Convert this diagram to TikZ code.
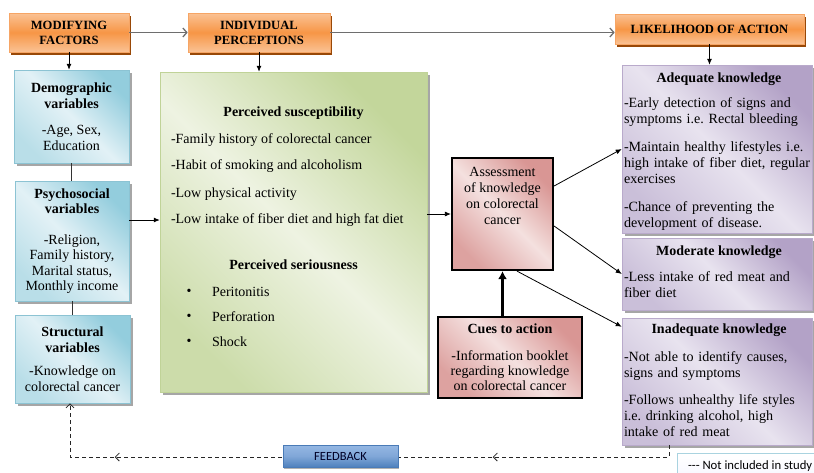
\documentclass[tikz,border=0pt]{standalone}
\usepackage{fontspec}
\setmainfont{Liberation Serif}
\newfontfamily\calfont{Carlito}
\usetikzlibrary{arrows.meta,shadows,decorations.markings}
\newcommand\myfs[2]{\fontsize{#1}{#2}\selectfont}
\frenchspacing
\definecolor{orA}{HTML}{FAC294}
\definecolor{orB}{HTML}{F79646}
\definecolor{orBord}{HTML}{F6A565}
\definecolor{orShadow}{HTML}{984807}
\definecolor{blA}{HTML}{93CDDD}
\definecolor{blB}{HTML}{E2F1F6}
\definecolor{blC}{HTML}{B9DEE8}
\definecolor{blBord}{HTML}{8CC3D3}
\definecolor{grA}{HTML}{C3D69B}
\definecolor{grB}{HTML}{EEF3E2}
\definecolor{grC}{HTML}{CCDCAA}
\definecolor{grBord}{HTML}{C0D398}
\definecolor{pkA}{HTML}{D99694}
\definecolor{pkB}{HTML}{F4E0DF}
\definecolor{pkC}{HTML}{DDA2A0}
\definecolor{puA}{HTML}{B3A2C7}
\definecolor{puB}{HTML}{E8E3EF}
\definecolor{puC}{HTML}{CABFD9}
\definecolor{puBord}{HTML}{B9AACB}
\definecolor{fbA}{HTML}{95B7E3}
\definecolor{fbB}{HTML}{4F81BD}
\definecolor{fbBord}{HTML}{4A7BB7}
\definecolor{legBord}{HTML}{A9D3E0}
\definecolor{arrGray}{HTML}{6E6E6E}
\tikzset{
  txt/.style={inner sep=0pt, outer sep=0pt},
  orangebox/.style={draw=orBord, line width=0.6pt, top color=orA, bottom color=orA, middle color=orB,
    general shadow={fill=orShadow, shadow xshift=2pt, shadow yshift=-3pt},
    font=\myfs{12.6}{15}\bfseries, align=center, inner sep=0pt},
  bluebox/.style={draw=blBord, line width=0.5pt, top color=blA, bottom color=blC, middle color=blB, shading angle=-45,
    general shadow={fill=black!35, shadow xshift=2.5pt, shadow yshift=-2.5pt},
    align=center, inner sep=0pt, font=\myfs{14}{15.5}},
  greenbox/.style={draw=grBord, line width=0.5pt, top color=grA, bottom color=grC, middle color=grB, shading angle=-45,
    general shadow={fill=black!35, shadow xshift=2.5pt, shadow yshift=-2.5pt}, inner sep=0pt},
  pinkbox/.style={draw=black, line width=2.2pt, top color=pkA, bottom color=pkC, middle color=pkB, shading angle=-45,
    align=center, inner sep=0pt},
  purplebox/.style={draw=puBord, line width=0.5pt, top color=puA, bottom color=puC, middle color=puB, shading angle=-45,
    general shadow={fill=black!35, shadow xshift=2.5pt, shadow yshift=-2.5pt}, inner sep=0pt},
  ptxt/.style={txt, font=\myfs{14.1}{16.2}, align=left, text width=188pt},
  grayarr/.style={draw=arrGray, line width=1.3pt, -{Straight Barb[length=4pt,width=9pt]}},
  blackarr/.style={draw=black, line width=0.8pt, -{Latex[length=6pt,width=5pt]}},
  thickarr/.style={draw=black, line width=3pt, -{Latex[length=8pt,width=9pt]}},
  thinline/.style={draw=black!80, line width=0.8pt},
  fbline/.style={draw=black!85, line width=0.8pt, dash pattern=on 4pt off 3pt,
    -{Straight Barb[length=4pt,width=8pt]},
    postaction={decorate, decoration={markings,
      mark=at position 188pt with {\arrow{Straight Barb[length=4pt,width=8pt]}},
      mark=at position 566pt with {\arrow{Straight Barb[length=4pt,width=8pt]}}}}},
  fbbox/.style={draw=fbBord, line width=0.6pt, top color=fbA, bottom color=fbB, middle color=fbA!70!fbB,
    general shadow={fill=black!30, shadow xshift=1pt, shadow yshift=-1.5pt},
    font=\calfont\myfs{12.5}{14}, text=black!85!blue, inner sep=0pt},
  legbox/.style={draw=legBord, line width=0.8pt, top color=white, bottom color=blue!3!white, inner sep=0pt}
}
\begin{document}
\begin{tikzpicture}[x=1pt, y=-1pt, font=\myfs{14}{16}]
\useasboundingbox (0,0) rectangle (814,472);

% orange headers
\node[orangebox, minimum width=120pt, minimum height=39pt] (mf) at (69,32.5) {MODIFYING\\FACTORS};
\node[orangebox, minimum width=142pt, minimum height=39pt] (ip) at (259,32.5) {INDIVIDUAL\\PERCEPTIONS};
\node[orangebox, minimum width=189pt, minimum height=30pt] (la) at (709.5,29) {LIKELIHOOD OF ACTION};

% blue boxes
\node[bluebox, minimum width=115pt, minimum height=93pt] (demo) at (71.5,116.5)
  {\textbf{Demographic}\\\textbf{variables}\\[11pt]-Age, Sex,\\Education};
\node[bluebox, minimum width=114pt, minimum height=120pt] (psy) at (72,241)
  {\textbf{Psychosocial}\\\textbf{variables}\\[15pt]-Religion,\\Family history,\\Marital status,\\Monthly income};
\node[bluebox, minimum width=115pt, minimum height=88pt] (struc) at (72.5,359)
  {\textbf{Structural}\\\textbf{variables}\\[8pt]-Knowledge on\\colorectal cancer};

% green box
\node[greenbox, minimum width=267pt, minimum height=320pt] (green) at (293.5,232) {};
\node[txt, anchor=base] (gt1) at (293.5,116) {\textbf{Perceived susceptibility}};
\node[txt, anchor=base west] (g1) at (171,143) {-Family history of colorectal cancer};
\node[txt, anchor=base west] (g2) at (171,169) {-Habit of smoking and alcoholism};
\node[txt, anchor=base west] (g3) at (171,197) {-Low physical activity};
\node[txt, anchor=base west] (g4) at (171,223) {-Low intake of fiber diet and high fat diet};
\node[txt, anchor=base] (gt2) at (293.5,269) {\textbf{Perceived seriousness}};
\node[txt] (b1) at (189,292) {\textbullet};
\node[txt] (b2) at (189,317) {\textbullet};
\node[txt] (b3) at (189,342) {\textbullet};
\node[txt, anchor=base west] (s1) at (212,296) {Peritonitis};
\node[txt, anchor=base west] (s2) at (212,321) {Perforation};
\node[txt, anchor=base west] (s3) at (212,346) {Shock};

% assessment and cues
\node[pinkbox, minimum width=101pt, minimum height=112pt] (asm) at (502.5,214) {};
\node[txt, align=center] (asmtxt) at (502.5,196) {Assessment\\of knowledge\\on colorectal\\cancer};
\node[pinkbox, minimum width=144pt, minimum height=81pt, font=\myfs{14}{15}] (cues) at (510,357.5)
  {\textbf{Cues to action}\\[12pt]-Information booklet\\regarding knowledge\\on colorectal cancer};

% purple boxes
\node[purplebox, minimum width=190pt, minimum height=168pt] (ade) at (717,149) {};
\node[txt, anchor=base] (adet) at (719,82) {\textbf{Adequate knowledge}};
\node[ptxt, anchor=base west] (ade1) at (624,107) {-Early detection of signs and\\symptoms i.e. Rectal bleeding};
\node[ptxt, anchor=base west] (ade2) at (624,151) {-Maintain healthy lifestyles i.e.\\high intake of fiber diet, regular\\exercises};
\node[ptxt, anchor=base west] (ade3) at (624,211) {-Chance of preventing the\\development of disease.};

\node[purplebox, minimum width=190pt, minimum height=72pt] (mod) at (717,274) {};
\node[txt, anchor=base] (modt) at (719,255) {\textbf{Moderate knowledge}};
\node[ptxt, anchor=base west] (mod1) at (624,281) {-Less intake of red meat and\\fiber diet};

\node[purplebox, minimum width=190pt, minimum height=127pt] (inad) at (717,381.5) {};
\node[txt, anchor=base] (inadt) at (719,333) {\textbf{Inadequate knowledge}};
\node[ptxt, anchor=base west] (inad1) at (624,361) {-Not able to identify causes,\\signs and symptoms};
\node[ptxt, anchor=base west] (inad2) at (624,404) {-Follows unhealthy life styles\\i.e. drinking alcohol, high\\intake of red meat};

% connectors
\draw[grayarr] (mf.east) -- (ip.west);
\draw[grayarr] (ip.east) -- (ip.east -| la.west);
\draw[blackarr] (mf.south) -- (mf.south |- demo.north);
\draw[blackarr] (ip.south) -- (ip.south |- green.north);
\draw[blackarr] (la.south) -- (la.south |- ade.north);
\draw[thinline] (demo.south) -- (demo.south |- psy.north);
\draw[thinline] (psy.south) -- (psy.south |- struc.north);
\coordinate (psyo) at ([yshift=21pt]psy.east);
\draw[blackarr] (psyo) -- (psyo -| green.west);
\draw[blackarr] (asm.west -| green.east) -- (asm.west);
\draw[thickarr] (cues.north -| asm.south) -- (asm.south);
\coordinate (a1) at ([yshift=28pt]asm.east);
\draw[blackarr] (a1) -- (ade.west);
\coordinate (a2) at ([yshift=-12pt]asm.east);
\draw[blackarr] (a2) -- (mod.west);
\coordinate (a3) at ([xshift=14.5pt]asm.south);
\coordinate (a3e) at ([yshift=-9pt]inad.north west);
\draw[blackarr] (a3) -- (a3e);

% feedback loop
\coordinate (fbs) at ([xshift=-48pt]inad.south);
\coordinate (fbc) at (70,457);
\draw[fbline] (fbs) |- (fbc) -- (struc.south -| fbc);
\node[fbbox, minimum width=115pt, minimum height=22pt] (fb) at (340.5,456) {FEEDBACK};

% legend
\node[legbox, anchor=north west, minimum width=140pt, minimum height=24pt] (leg) at (677,453) {};
\node[txt, anchor=base west, font=\calfont\myfs{12.7}{14}] (legt) at (688,469) {-{}-{}- Not included in study};
\end{tikzpicture}
\end{document}
